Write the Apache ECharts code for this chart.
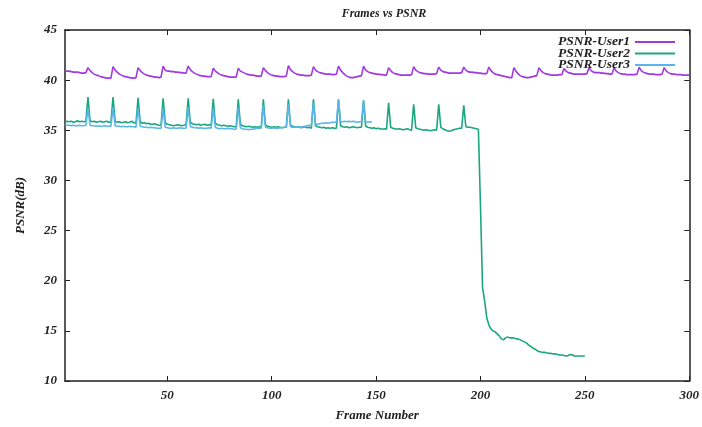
<!DOCTYPE html>
<html><head><meta charset="utf-8">
<script src="https://cdn.jsdelivr.net/npm/echarts@6/dist/echarts.min.js"></script>
<style>html,body{margin:0;padding:0;background:#fff}#c{width:702px;height:427px}</style>
</head><body><div id="c"></div>
<script>
const seriesNames = ['PSNR-User1', 'PSNR-User2', 'PSNR-User3'];
const xTickValues = [50, 100, 150, 200, 250, 300];
const yTickValues = [10, 15, 20, 25, 30, 35, 40, 45];

// PSNR-User1, frames 1..300
const user1 = [
40.9,40.9,40.9,40.85,40.8,40.8,40.8,40.75,40.7,40.7,40.75,
41.25,40.95,40.75,40.6,40.5,40.45,40.35,40.3,40.25,40.2,40.2,40.2,
41.35,41.0,40.8,40.6,40.5,40.4,40.35,40.3,40.25,40.2,40.2,40.25,
41.25,40.95,40.75,40.6,40.5,40.45,40.4,40.35,40.3,40.3,40.25,40.3,
41.4,41.0,40.9,40.9,40.85,40.85,40.8,40.8,40.75,40.75,40.7,40.7,
41.4,41.05,40.85,40.7,40.6,40.5,40.45,40.4,40.4,40.35,40.35,40.35,
41.2,40.9,40.75,40.6,40.5,40.45,40.4,40.35,40.3,40.3,40.3,40.3,
41.2,40.9,40.8,40.7,40.6,40.55,40.5,40.5,40.45,40.4,40.4,40.4,
41.25,40.95,40.75,40.6,40.5,40.45,40.4,40.4,40.35,40.35,40.35,40.4,
41.45,41.05,40.85,40.7,40.6,40.55,40.5,40.5,40.45,40.45,40.45,40.5,
41.35,41.0,40.85,40.75,40.7,40.65,40.6,40.6,40.6,40.55,40.55,40.6,
41.4,41.0,40.75,40.55,40.4,40.3,40.25,40.25,40.3,40.35,40.4,40.45,
41.4,41.0,40.85,40.75,40.7,40.65,40.6,40.6,40.55,40.55,40.5,40.5,
41.25,40.95,40.75,40.65,40.6,40.55,40.5,40.5,40.5,40.5,40.5,40.55,
41.35,41.0,40.85,40.75,40.7,40.65,40.65,40.6,40.6,40.6,40.6,40.65,
41.3,41.0,40.85,40.8,40.75,40.7,40.7,40.7,40.7,40.7,40.7,40.75,
41.3,41.0,40.85,40.8,40.8,40.75,40.75,40.7,40.7,40.65,40.65,40.65,
41.3,40.95,40.75,40.6,40.55,40.5,40.45,40.4,40.35,40.3,40.25,40.25,
41.25,40.9,40.65,40.45,40.35,40.3,40.25,40.25,40.3,40.35,40.4,40.45,
41.25,40.95,40.75,40.65,40.6,40.55,40.5,40.5,40.5,40.5,40.55,40.55,
41.15,40.9,40.75,40.7,40.65,40.6,40.6,40.6,40.6,40.6,40.6,40.65,
41.25,40.95,40.8,40.75,40.75,40.75,40.7,40.7,40.65,40.65,40.6,40.6,
41.25,40.9,40.75,40.65,40.6,40.6,40.55,40.55,40.55,40.55,40.55,40.6,
41.3,40.95,40.8,40.7,40.65,40.6,40.6,40.6,40.55,40.55,40.55,40.6,
41.25,40.9,40.75,40.65,40.6,40.6,40.55,40.55,40.55,40.5,40.5,40.5,
40.5
];

// PSNR-User2, frames 1..250
const user2 = [
35.8,35.9,35.85,35.9,35.8,35.85,35.95,35.85,35.9,35.85,35.9,
38.3,35.95,35.85,35.9,35.8,35.85,35.9,35.8,35.85,35.9,35.8,35.8,
38.3,35.9,35.8,35.85,35.75,35.8,35.85,35.75,35.8,35.9,35.75,35.7,
38.25,35.85,35.7,35.75,35.65,35.7,35.6,35.6,35.65,35.55,35.5,35.5,
38.2,35.75,35.6,35.55,35.5,35.45,35.5,35.55,35.5,35.45,35.5,35.55,
38.2,35.8,35.65,35.6,35.55,35.6,35.5,35.55,35.6,35.5,35.55,35.5,
38.15,35.7,35.55,35.5,35.45,35.5,35.45,35.4,35.45,35.4,35.35,35.35,
38.1,35.6,35.45,35.4,35.35,35.4,35.35,35.3,35.35,35.3,35.35,35.3,
38.1,35.55,35.4,35.35,35.3,35.35,35.3,35.35,35.3,35.25,35.3,35.3,
38.1,35.5,35.4,35.35,35.3,35.35,35.25,35.3,35.35,35.25,35.3,35.2,
38.1,35.45,35.35,35.3,35.25,35.3,35.2,35.25,35.2,35.25,35.2,35.2,
38.1,35.45,35.35,35.3,35.35,35.25,35.3,35.35,35.3,35.25,35.3,35.3,
38.0,35.4,35.3,35.25,35.2,35.25,35.15,35.2,35.15,35.1,35.15,35.1,
37.75,35.3,35.2,35.15,35.1,35.15,35.1,35.05,35.1,35.15,35.05,35.0,
37.6,35.25,35.15,35.1,35.05,35.0,35.05,35.0,34.95,35.0,35.05,35.0,
37.6,35.3,35.15,35.05,34.95,34.9,34.95,35.05,35.1,35.15,35.2,35.2,
37.5,35.35,35.3,35.3,35.25,35.2,35.15,35.1,
27.5,19.3,18.0,16.3,15.6,15.2,15.0,14.9,14.7,14.5,
14.2,14.1,14.3,14.4,14.3,14.3,14.3,14.2,14.2,14.1,
14.0,13.9,13.8,13.6,13.45,13.3,13.2,13.05,12.95,12.9,
12.85,12.85,12.8,12.75,12.75,12.7,12.7,12.65,12.6,12.6,
12.55,12.5,12.55,12.65,12.6,12.5,12.5,12.5,12.5,12.5,
12.5
];

// PSNR-User3, frames 1..148
const user3 = [
35.55,35.5,35.5,35.45,35.5,35.45,35.45,35.5,35.45,35.45,35.5,
37.2,35.5,35.45,35.45,35.4,35.45,35.4,35.4,35.45,35.4,35.4,35.4,
37.3,35.45,35.4,35.4,35.35,35.4,35.35,35.35,35.4,35.35,35.35,35.3,
37.2,35.4,35.35,35.3,35.3,35.25,35.3,35.25,35.25,35.2,35.2,35.2,
37.2,35.3,35.25,35.2,35.2,35.25,35.2,35.2,35.25,35.2,35.2,35.2,
37.3,35.35,35.3,35.25,35.25,35.2,35.25,35.2,35.2,35.2,35.25,35.2,
37.2,35.3,35.2,35.15,35.2,35.15,35.15,35.2,35.15,35.15,35.1,35.1,
37.3,35.25,35.15,35.1,35.1,35.05,35.1,35.1,35.15,35.2,35.2,35.2,
37.5,35.3,35.25,35.2,35.2,35.25,35.2,35.2,35.25,35.25,35.3,35.3,
37.6,35.35,35.3,35.3,35.3,35.35,35.3,35.35,35.4,35.45,35.5,35.5,
37.7,35.55,35.6,35.65,35.7,35.7,35.75,35.7,35.75,35.8,35.8,35.8,
38.0,35.85,35.85,35.9,35.85,35.9,35.85,35.9,35.85,35.8,35.85,35.85,
37.9,35.85,35.8,35.85,35.8
];

const FONT = {fontFamily: 'Liberation Serif, DejaVu Serif, serif', fontStyle: 'italic', fontWeight: 'bold', color: '#222', fontSize: 13};
const colors = ['#a23ae0', '#1aa67e', '#5ab6ea'];
const toPts = arr => arr.map((v, i) => [i + 1, v]);
const dataSets = [user1, user2, user3];

const chart = echarts.init(document.getElementById('c'), null, {renderer: 'canvas'});
const axisLineStyle = {show: true, lineStyle: {color: '#222', width: 1.5}};
const tickStyle = {show: true, inside: true, length: 5, lineStyle: {color: '#222', width: 1}};
chart.setOption({
  animation: false,
  backgroundColor: '#fff',
  color: colors,
  title: {text: 'Frames vs PSNR', left: 379, textAlign: 'center', top: 3, textStyle: Object.assign({}, FONT, {fontSize: 12})},
  legend: {
    data: seriesNames, orient: 'vertical', align: 'right', right: 22, top: 30,
    itemWidth: 40, itemHeight: 2, itemGap: -2.5, icon: 'rect',
    textStyle: Object.assign({}, FONT, {fontSize: 13.5})
  },
  grid: {left: 65, right: 10, top: 30, bottom: 40, containLabel: false},
  xAxis: [{
    type: 'value', min: 1, max: 300, position: 'bottom',
    name: 'Frame Number', nameLocation: 'middle', nameGap: 28, nameTextStyle: FONT,
    axisLine: axisLineStyle,
    axisTick: Object.assign({}, tickStyle, {customValues: xTickValues}),
    axisLabel: Object.assign({}, FONT, {customValues: xTickValues, margin: 8}),
    splitLine: {show: false}
  }, {
    type: 'value', min: 1, max: 300, position: 'top',
    axisLine: axisLineStyle,
    axisTick: Object.assign({}, tickStyle, {customValues: xTickValues}),
    axisLabel: {show: false}, splitLine: {show: false}
  }],
  yAxis: [{
    type: 'value', min: 10, max: 45, interval: 5, position: 'left',
    name: 'PSNR(dB)', nameLocation: 'middle', nameGap: 38, nameRotate: 90, nameTextStyle: FONT,
    axisLine: axisLineStyle, axisTick: tickStyle,
    axisLabel: Object.assign({}, FONT, {margin: 8}),
    splitLine: {show: false}
  }, {
    type: 'value', min: 10, max: 45, interval: 5, position: 'right',
    axisLine: axisLineStyle, axisTick: tickStyle,
    axisLabel: {show: false}, splitLine: {show: false}
  }],
  series: dataSets.map((arr, k) => ({
    name: seriesNames[k], type: 'line', data: toPts(arr),
    showSymbol: false, symbol: 'none',
    lineStyle: {width: 1.6, color: colors[k]}, itemStyle: {color: colors[k]}
  }))
});
</script></body></html>
